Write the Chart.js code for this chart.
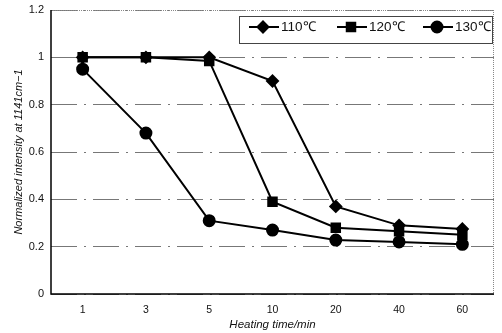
<!DOCTYPE html>
<html>
<head>
<meta charset="utf-8">
<script src="https://cdn.jsdelivr.net/npm/chart.js@4/dist/chart.umd.min.js"></script>
<style>
  html, body { margin: 0; padding: 0; background: #fff; }
  #wrap { width: 502px; height: 333px; }
</style>
</head>
<body>
<div id="wrap"><canvas id="chart" width="502" height="333"></canvas></div>
<script>
// heating times (min), used as categories
const times = ['1', '3', '5', '10', '20', '40', '60'];

// normalized intensity at 1141 cm-1
const t110 = [1.0, 1.0, 1.0, 0.9, 0.37, 0.29, 0.275];
const t120 = [1.0, 1.0, 0.985, 0.39, 0.28, 0.265, 0.25];
const t130 = [0.95, 0.68, 0.31, 0.27, 0.228, 0.22, 0.21];

const seriesLabels = ['110\u2103', '120\u2103', '130\u2103'];
const yTicks = [0, 0.2, 0.4, 0.6, 0.8, 1, 1.2];

const FONT = "'Liberation Sans', Arial, sans-serif";

// frame: solid left/bottom, dotted top/right
const framePlugin = {
    id: 'frame',
    beforeDatasetsDraw(chart) {
        const { ctx, chartArea: a } = chart;
        ctx.save();
        ctx.strokeStyle = '#888';
        ctx.lineWidth = 1;
        ctx.setLineDash([1, 1]);
        ctx.beginPath();
        ctx.moveTo(a.left, a.top + 0.5);
        ctx.lineTo(a.right - 0.5, a.top + 0.5);
        ctx.lineTo(a.right - 0.5, a.bottom);
        ctx.stroke();
        ctx.setLineDash([]);
        ctx.strokeStyle = '#000';
        ctx.lineWidth = 1.5;
        ctx.beginPath();
        ctx.moveTo(a.left, a.top);
        ctx.lineTo(a.left, a.bottom);
        ctx.lineTo(a.right, a.bottom);
        ctx.stroke();
        ctx.restore();
    }
};

// boxed legend drawn inside the plot, top right
const boxLegend = {
    id: 'boxLegend',
    afterDatasetsDraw(chart) {
        const { ctx, chartArea: a } = chart;
        const boxL = 239, boxT = 16, boxR = a.right - 2, boxB = 43;
        ctx.save();
        ctx.fillStyle = '#fff';
        ctx.fillRect(boxL, boxT, boxR - boxL, boxB - boxT);
        ctx.strokeStyle = '#444';
        ctx.lineWidth = 1;
        ctx.strokeRect(boxL + 0.5, boxT + 0.5, boxR - boxL, boxB - boxT);
        const starts = [249, 337, 423];
        const cy = 27;
        ctx.font = '13.5px ' + FONT;
        ctx.textBaseline = 'middle';
        chart.data.datasets.forEach((ds, i) => {
            const x0 = starts[i];
            ctx.strokeStyle = '#000';
            ctx.lineWidth = 2;
            ctx.beginPath();
            ctx.moveTo(x0, cy);
            ctx.lineTo(x0 + 30, cy);
            ctx.stroke();
            ctx.fillStyle = '#000';
            Chart.helpers.drawPoint(ctx, {
                pointStyle: ds.pointStyle,
                radius: ds.pointRadius,
                rotation: 0,
                borderWidth: 1
            }, x0 + 14, cy);
            ctx.fillStyle = '#111';
            ctx.fillText(ds.label, x0 + 32, cy + 0.5);
        });
        ctx.restore();
    }
};

function series(label, data, style, r) {
    return {
        label: label,
        data: data,
        borderColor: '#000',
        backgroundColor: '#000',
        borderWidth: 2,
        pointStyle: style,
        pointRadius: r,
        pointHoverRadius: r,
        pointBackgroundColor: '#000',
        pointBorderColor: '#000',
        tension: 0
    };
}

new Chart(document.getElementById('chart'), {
    type: 'line',
    data: {
        labels: times,
        datasets: [
            series(seriesLabels[0], t110, 'rectRot', 5.5),
            series(seriesLabels[1], t120, 'rect', 6),
            series(seriesLabels[2], t130, 'circle', 5.5)
        ]
    },
    options: {
        responsive: false,
        animation: false,
        layout: { padding: { top: 10, right: 3, bottom: 1, left: 0 } },
        plugins: {
            legend: { display: false },
            tooltip: { enabled: false }
        },
        scales: {
            x: {
                type: 'category',
                offset: true,
                grid: { display: false, drawTicks: false },
                border: { display: false },
                ticks: {
                    color: '#111',
                    padding: 10,
                    font: { family: FONT, size: 10.5 }
                },
                title: {
                    display: true,
                    text: 'Heating time/min',
                    color: '#111',
                    padding: { top: 0, bottom: 0 },
                    font: { family: FONT, size: 11.5, style: 'italic' }
                },
                afterFit(scale) { scale.height = 38; }
            },
            y: {
                min: 0,
                max: 1.2,
                afterBuildTicks(scale) {
                    scale.ticks = yTicks.map(v => ({ value: v }));
                },
                grid: {
                    color: '#777',
                    lineWidth: 1,
                    drawTicks: false,
                    z: 0
                },
                border: { display: false, dash: [26, 7, 2, 7] },
                ticks: {
                    color: '#111',
                    padding: 7,
                    font: { family: FONT, size: 11 },
                    callback: v => String(Math.round(v * 10) / 10)
                },
                title: {
                    display: true,
                    text: 'Normalized intensity at 1141cm\u22121',
                    color: '#111',
                    padding: { top: 12, bottom: 0 },
                    font: { family: FONT, size: 11, style: 'italic' }
                },
                afterFit(scale) {
                    scale.width = 51;
                    scale.paddingTop = 0;
                    scale.paddingBottom = 0;
                }
            }
        }
    },
    plugins: [framePlugin, boxLegend]
});
</script>
</body>
</html>
